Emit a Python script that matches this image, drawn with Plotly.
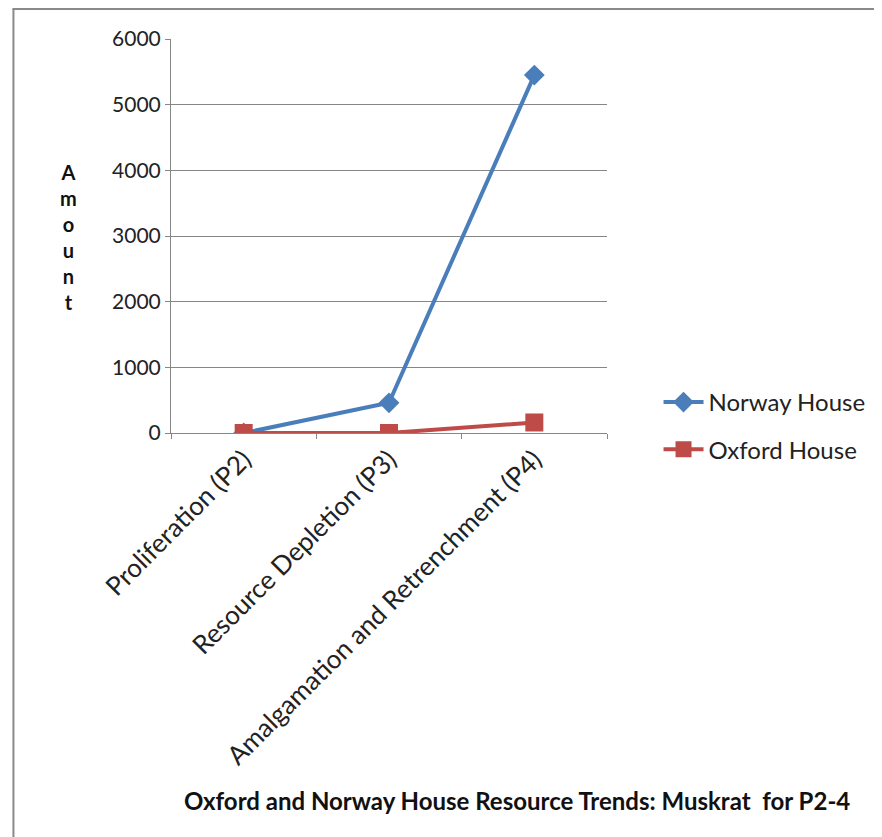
import plotly.graph_objects as go

# categories and values
periods = ["Proliferation (P2)", "Resource Depletion (P3)", "Amalgamation and Retrenchment (P4)"]
norway_house = [0, 460, 5450]
oxford_house = [0, 0, 160]
y_ticks = [0, 1000, 2000, 3000, 4000, 5000, 6000]

FONT = "Lato"

# page body has an 8px margin, so the figure is drawn 8px in
W, H = 874, 829
L, T, PW, PH = 163, 31, 440, 394


def px_x(x):
    return (x - 8 - L) / PW


def px_y(y):
    return (T + PH - (y - 8)) / PH


fig = go.Figure()

fig.add_trace(go.Scatter(
    x=periods, y=norway_house, name="Norway House",
    mode="lines+markers",
    line=dict(color="#4a7ebb", width=4),
    marker=dict(symbol="diamond", size=16, color="#4a7ebb"),
    legendgroup="a"
))
fig.add_trace(go.Scatter(
    x=periods, y=oxford_house, name="Oxford House",
    mode="lines+markers",
    line=dict(color="#be4b48", width=4),
    marker=dict(symbol="square", size=18, color="#be4b48"),
    legendgroup="b"
))

# axis title drawn as stacked letters, like the original
fig.add_annotation(
    text="<b>" + "<br>".join("Amount") + "</b>", xref="paper", yref="paper",
    x=px_x(68), y=px_y(237), xanchor="center", yanchor="middle", showarrow=False,
    font=dict(family=FONT, size=20, color="#111"),
)
fig.add_annotation(
    text="<b>Oxford and Norway House Resource Trends: Muskrat  for P2-4</b>",
    xref="paper", yref="paper", x=px_x(520), y=px_y(800),
    xanchor="center", yanchor="middle", showarrow=False,
    font=dict(family=FONT, size=24, color="#111"),
)

# grey frame on top and left
fig.add_shape(type="line", xref="paper", yref="paper",
              x0=px_x(11), x1=px_x(881), y0=px_y(9), y1=px_y(9),
              line=dict(color="#8a8a8a", width=2))
fig.add_shape(type="line", xref="paper", yref="paper",
              x0=px_x(12), x1=px_x(12), y0=px_y(9), y1=px_y(837),
              line=dict(color="#8a8a8a", width=2))

fig.update_layout(
    width=W, height=H,
    margin=dict(l=L, r=W - L - PW, t=T, b=H - T - PH),
    paper_bgcolor="white", plot_bgcolor="white",
    font=dict(family=FONT, size=20, color="#222"),
    showlegend=True,
    legend=dict(
        x=px_x(663), y=px_y(380), xanchor="left", yanchor="top",
        font=dict(family=FONT, size=24, color="#222"),
        tracegroupgap=13, itemwidth=40
    ),
    xaxis=dict(
        type="category", range=[-0.5, 2.5],
        tickangle=-45, tickson="boundaries", ticks="outside", ticklen=5,
        tickcolor="#868686", showline=True, linecolor="#868686", linewidth=1,
        showgrid=False, zeroline=False,
        tickfont=dict(family=FONT, size=26, color="#222"),
    ),
    yaxis=dict(
        range=[0, 6000], tickvals=y_ticks,
        ticks="outside", ticklen=5, tickcolor="#868686",
        showline=True, linecolor="#868686", linewidth=1,
        showgrid=True, gridcolor="#868686", gridwidth=1, zeroline=False,
        tickfont=dict(family=FONT, size=21, color="#222"),
    ),
)

fig.write_html("out.html")
